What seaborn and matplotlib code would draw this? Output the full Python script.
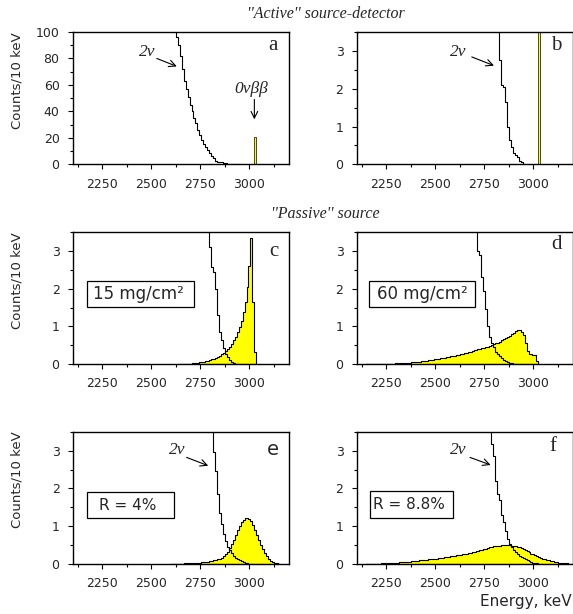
import numpy as np
import pandas as pd
import seaborn as sns
import matplotlib.pyplot as plt
from matplotlib.patches import Rectangle
from matplotlib.ticker import MultipleLocator

# 10 keV bins, values given per bin centre starting at *_start
# 2nu spectrum for the "active" source-detector (panels a, b)
tnu_ab_start = 2620
tnu_ab = [135, 96, 90, 82, 72, 63, 57, 51, 45, 40,
          35, 31, 26, 22, 18, 15, 13, 11, 8.5, 6.5,
          4.5, 2.77, 2.10, 2.04, 1.66, 1.0, 0.65, 0.47, 0.29, 0.25,
          0.2, 0.1, 0.05, 0]
peak_ab_start = 3030
peak_ab = [21]

# 15 mg/cm2 passive source (c)
tnu_c_start = 2790
tnu_c = [4.5, 3.1, 2.58, 2.45, 2.0, 1.3, 0.85, 0.64, 0.42, 0.27,
         0.19, 0.12, 0.07, 0.04, 0.02, 0]
sig_c_start = 2640
sig_c = [0.005, 0.01, 0.01, 0.012, 0.015, 0.018, 0.02, 0.025, 0.03, 0.035,
         0.04, 0.05, 0.055, 0.065, 0.075, 0.09, 0.11, 0.13, 0.15, 0.17,
         0.2, 0.23, 0.27, 0.31, 0.36, 0.41, 0.47, 0.54, 0.63, 0.73,
         0.85, 0.99, 1.15, 1.37, 1.65, 2.05, 2.6, 3.35, 1.65, 0.33]

# 60 mg/cm2 passive source (d)
tnu_d_start = 2710
tnu_d = [4.0, 3.0, 2.9, 2.3, 1.95, 1.45, 1.0, 0.72, 0.55, 0.45,
         0.33, 0.27, 0.21, 0.16, 0.12, 0.09, 0.06, 0.04, 0.025, 0.01, 0]
sig_d_start = 2150
sig_d = [0.005, 0.005, 0.006, 0.006, 0.007, 0.008, 0.009, 0.01, 0.011, 0.012,
         0.013, 0.015, 0.016, 0.018, 0.02, 0.022, 0.025, 0.027, 0.03, 0.033,
         0.036, 0.04, 0.044, 0.048, 0.052, 0.058, 0.064, 0.07, 0.077, 0.084,
         0.09, 0.097, 0.104, 0.112, 0.12, 0.128, 0.137, 0.146, 0.155, 0.164,
         0.174, 0.184, 0.195, 0.206, 0.218, 0.23, 0.242, 0.254, 0.267, 0.28,
         0.293, 0.307, 0.321, 0.335, 0.35, 0.365, 0.38, 0.395, 0.41, 0.425,
         0.44, 0.455, 0.47, 0.49, 0.51, 0.53, 0.55, 0.57, 0.6, 0.63,
         0.66, 0.69, 0.72, 0.75, 0.79, 0.83, 0.87, 0.9, 0.9, 0.86,
         0.78, 0.56, 0.34, 0.28, 0.26, 0.25, 0.24, 0.09]

# energy resolution R = 4% (e)
tnu_e_start = 2810
tnu_e = [4.5, 2.95, 2.45, 1.85, 1.34, 1.05, 0.8, 0.6, 0.45, 0.36,
         0.28, 0.22, 0.17, 0.13, 0.1, 0.07, 0.05, 0.03, 0.02, 0.01, 0]
sig_e_start = 2600
sig_e = [0.005, 0.006, 0.007, 0.008, 0.009, 0.01, 0.012, 0.014, 0.016, 0.018,
         0.02, 0.023, 0.026, 0.03, 0.034, 0.038, 0.043, 0.05, 0.057, 0.065,
         0.075, 0.085, 0.097, 0.11, 0.125, 0.145, 0.17, 0.21, 0.26, 0.33,
         0.42, 0.52, 0.63, 0.76, 0.89, 1.0, 1.1, 1.17, 1.22, 1.23,
         1.2, 1.13, 1.03, 0.91, 0.78, 0.64, 0.51, 0.39, 0.29, 0.2,
         0.13, 0.085, 0.05, 0.03, 0.015, 0.005]

# energy resolution R = 8.8% (f)
tnu_f_start = 2780
tnu_f = [4.5, 3.17, 2.85, 2.2, 1.85, 1.7, 1.3, 1.12, 0.88, 0.66,
         0.52, 0.44, 0.37, 0.31, 0.26, 0.22, 0.18, 0.15, 0.12, 0.1,
         0.08, 0.06, 0.04, 0.03, 0.02, 0.01, 0]
sig_f_start = 2150
sig_f = [0.005, 0.006, 0.007, 0.008, 0.009, 0.01, 0.011, 0.012, 0.014, 0.016,
         0.018, 0.02, 0.023, 0.026, 0.029, 0.033, 0.037, 0.041, 0.046, 0.051,
         0.056, 0.061, 0.066, 0.072, 0.078, 0.084, 0.089, 0.094, 0.1, 0.105,
         0.11, 0.115, 0.12, 0.126, 0.132, 0.138, 0.145, 0.152, 0.159, 0.166,
         0.174, 0.182, 0.19, 0.199, 0.208, 0.217, 0.226, 0.235, 0.245, 0.255,
         0.265, 0.276, 0.287, 0.299, 0.311, 0.323, 0.336, 0.349, 0.362, 0.376,
         0.39, 0.41, 0.43, 0.445, 0.455, 0.465, 0.475, 0.482, 0.488, 0.492,
         0.495, 0.497, 0.497, 0.494, 0.488, 0.48, 0.47, 0.457, 0.44, 0.415,
         0.39, 0.362, 0.333, 0.305, 0.278, 0.252, 0.228, 0.205, 0.183, 0.163,
         0.144, 0.126, 0.11, 0.095, 0.081, 0.068, 0.057, 0.047, 0.038, 0.031,
         0.025, 0.02, 0.016, 0.012, 0.009]

xticks = [2250, 2500, 2750, 3000]

sns.set_theme(style='ticks')
plt.rcParams['font.family'] = ['DejaVu Sans']
serif = ['Liberation Serif', 'DejaVu Serif']


def hist(ax, start, vals, fill, lw=0.8):
    df = pd.DataFrame({'E': start + 10 * np.arange(len(vals)), 'w': vals})
    lo = start - 5
    hi = start - 5 + 10 * len(vals)
    if fill:
        sns.histplot(data=df, x='E', weights='w', binwidth=10, binrange=(lo, hi),
                     element='step', fill=True, color='#ffff00',
                     edgecolor='black', linewidth=lw, alpha=1, ax=ax)
    else:
        sns.histplot(data=df, x='E', weights='w', binwidth=10, binrange=(lo, hi),
                     element='step', fill=False, color='black',
                     linewidth=lw, ax=ax)


fig = plt.figure(figsize=(5.73, 6.14), dpi=100)
lefts = [0.1269, 0.6225]
bottoms = [0.7324, 0.4067, 0.0814]
w, h = 0.377, 0.2155
axes = {}
names = [['a', 'b'], ['c', 'd'], ['e', 'f']]
for r in range(3):
    for c in range(2):
        axes[names[r][c]] = fig.add_axes([lefts[c], bottoms[r], w, h])

# panel a / b
hist(axes['a'], peak_ab_start, peak_ab, True, lw=0.5)
hist(axes['a'], tnu_ab_start, tnu_ab, False)
hist(axes['b'], peak_ab_start, peak_ab, True, lw=0.5)
hist(axes['b'], tnu_ab_start, tnu_ab, False)
# c .. f
for k, (s1, v1, s2, v2) in {
        'c': (sig_c_start, sig_c, tnu_c_start, tnu_c),
        'd': (sig_d_start, sig_d, tnu_d_start, tnu_d),
        'e': (sig_e_start, sig_e, tnu_e_start, tnu_e),
        'f': (sig_f_start, sig_f, tnu_f_start, tnu_f)}.items():
    hist(axes[k], s1, v1, True)
    hist(axes[k], s2, v2, False)

for k, ax in axes.items():
    ax.set_xlim(2100, 3200)
    if k == 'a':
        ax.set_ylim(0, 100)
        ax.yaxis.set_major_locator(MultipleLocator(20))
        ax.yaxis.set_minor_locator(MultipleLocator(10))
    else:
        ax.set_ylim(0, 3.5)
        ax.yaxis.set_major_locator(MultipleLocator(1))
        ax.yaxis.set_minor_locator(MultipleLocator(0.5))
    ax.set_xticks(xticks)
    ax.xaxis.set_minor_locator(MultipleLocator(125))
    ax.tick_params(which='major', direction='out', length=3.5, width=0.8,
                   labelsize=9, pad=6, color='black')
    ax.tick_params(which='minor', direction='out', length=2, width=0.8,
                   color='black')
    for sp in ax.spines.values():
        sp.set_visible(True)
        sp.set_linewidth(1.0)
        sp.set_color('black')
    ax.set_xlabel('')
    if k in ('a', 'c', 'e'):
        ax.set_ylabel('Counts/10 keV', fontsize=9.5, loc='top')
        ax.yaxis.set_label_coords(-0.23, 1.0)
    else:
        ax.set_ylabel('')

# panel letters
letter_pos = {'a': (0.929, 0.898), 'b': (0.924, 0.896), 'c': (0.929, 0.852),
              'd': (0.924, 0.906), 'e': (0.925, 0.868), 'f': (0.91, 0.89)}
for k, (x, y) in letter_pos.items():
    fam = ['DejaVu Sans'] if k == 'e' else serif
    axes[k].text(x, y, k, transform=axes[k].transAxes, ha='center',
                 va='center', fontsize=15 if k != 'e' else 14, family=fam)

# 2nu arrows (text pos, arrow tail, arrow head) in data coords
arrows = {'a': ((2477, 85), (2528, 80), (2630, 74)),
          'b': ((2617, 2.97), (2686, 2.84), (2799, 2.61)),
          'e': ((2630, 3.02), (2680, 2.82), (2790, 2.6)),
          'f': ((2617, 3.02), (2677, 2.82), (2782, 2.62))}
for k, (t, tail, head) in arrows.items():
    ax = axes[k]
    ax.text(t[0], t[1], '2\u03bd', ha='center', va='center', fontsize=12.5,
            family=serif, style='italic')
    ax.annotate('', xy=head, xytext=tail,
                arrowprops=dict(arrowstyle='->', lw=0.8, color='black',
                                shrinkA=0, shrinkB=0))
axes['a'].text(3011, 57, '0\u03bd\u03b2\u03b2', ha='center', va='center',
               fontsize=12.5, family=serif, style='italic')
axes['a'].annotate('', xy=(3025, 34), xytext=(3025, 49),
                   arrowprops=dict(arrowstyle='->', lw=0.8, color='black',
                                   shrinkA=0, shrinkB=0))

# boxes: (x0, x1, y0, y1) axes fraction, text centre, text, size
boxes = {'c': ((0.065, 0.56, 0.43, 0.63), (0.304, 0.53), '15 mg/cm\u00b2', 12),
         'd': ((0.058, 0.548, 0.43, 0.63), (0.305, 0.53), '60 mg/cm\u00b2', 12),
         'e': ((0.068, 0.471, 0.345, 0.546), (0.255, 0.446), 'R = 4%', 11),
         'f': ((0.062, 0.446, 0.345, 0.554), (0.244, 0.45), 'R = 8.8%', 11)}
for k, (bx, tc, txt, fs) in boxes.items():
    ax = axes[k]
    ax.add_patch(Rectangle((bx[0], bx[2]), bx[1] - bx[0], bx[3] - bx[2],
                           transform=ax.transAxes, fill=True, facecolor='white',
                           edgecolor='black', linewidth=0.9, zorder=5))
    ax.text(tc[0], tc[1], txt, transform=ax.transAxes, ha='center',
            va='center', fontsize=fs, zorder=6)

fig.text(0.569, 0.977, "''Active'' source-detector", ha='center', va='center',
         fontsize=11.5, family=serif, style='italic')
fig.text(0.568, 0.651, "''Passive'' source", ha='center', va='center',
         fontsize=11.5, family=serif, style='italic')
fig.text(0.997, 0.021, 'Energy, keV', ha='right', va='center', fontsize=11)

fig.savefig('out.png', dpi=100)
